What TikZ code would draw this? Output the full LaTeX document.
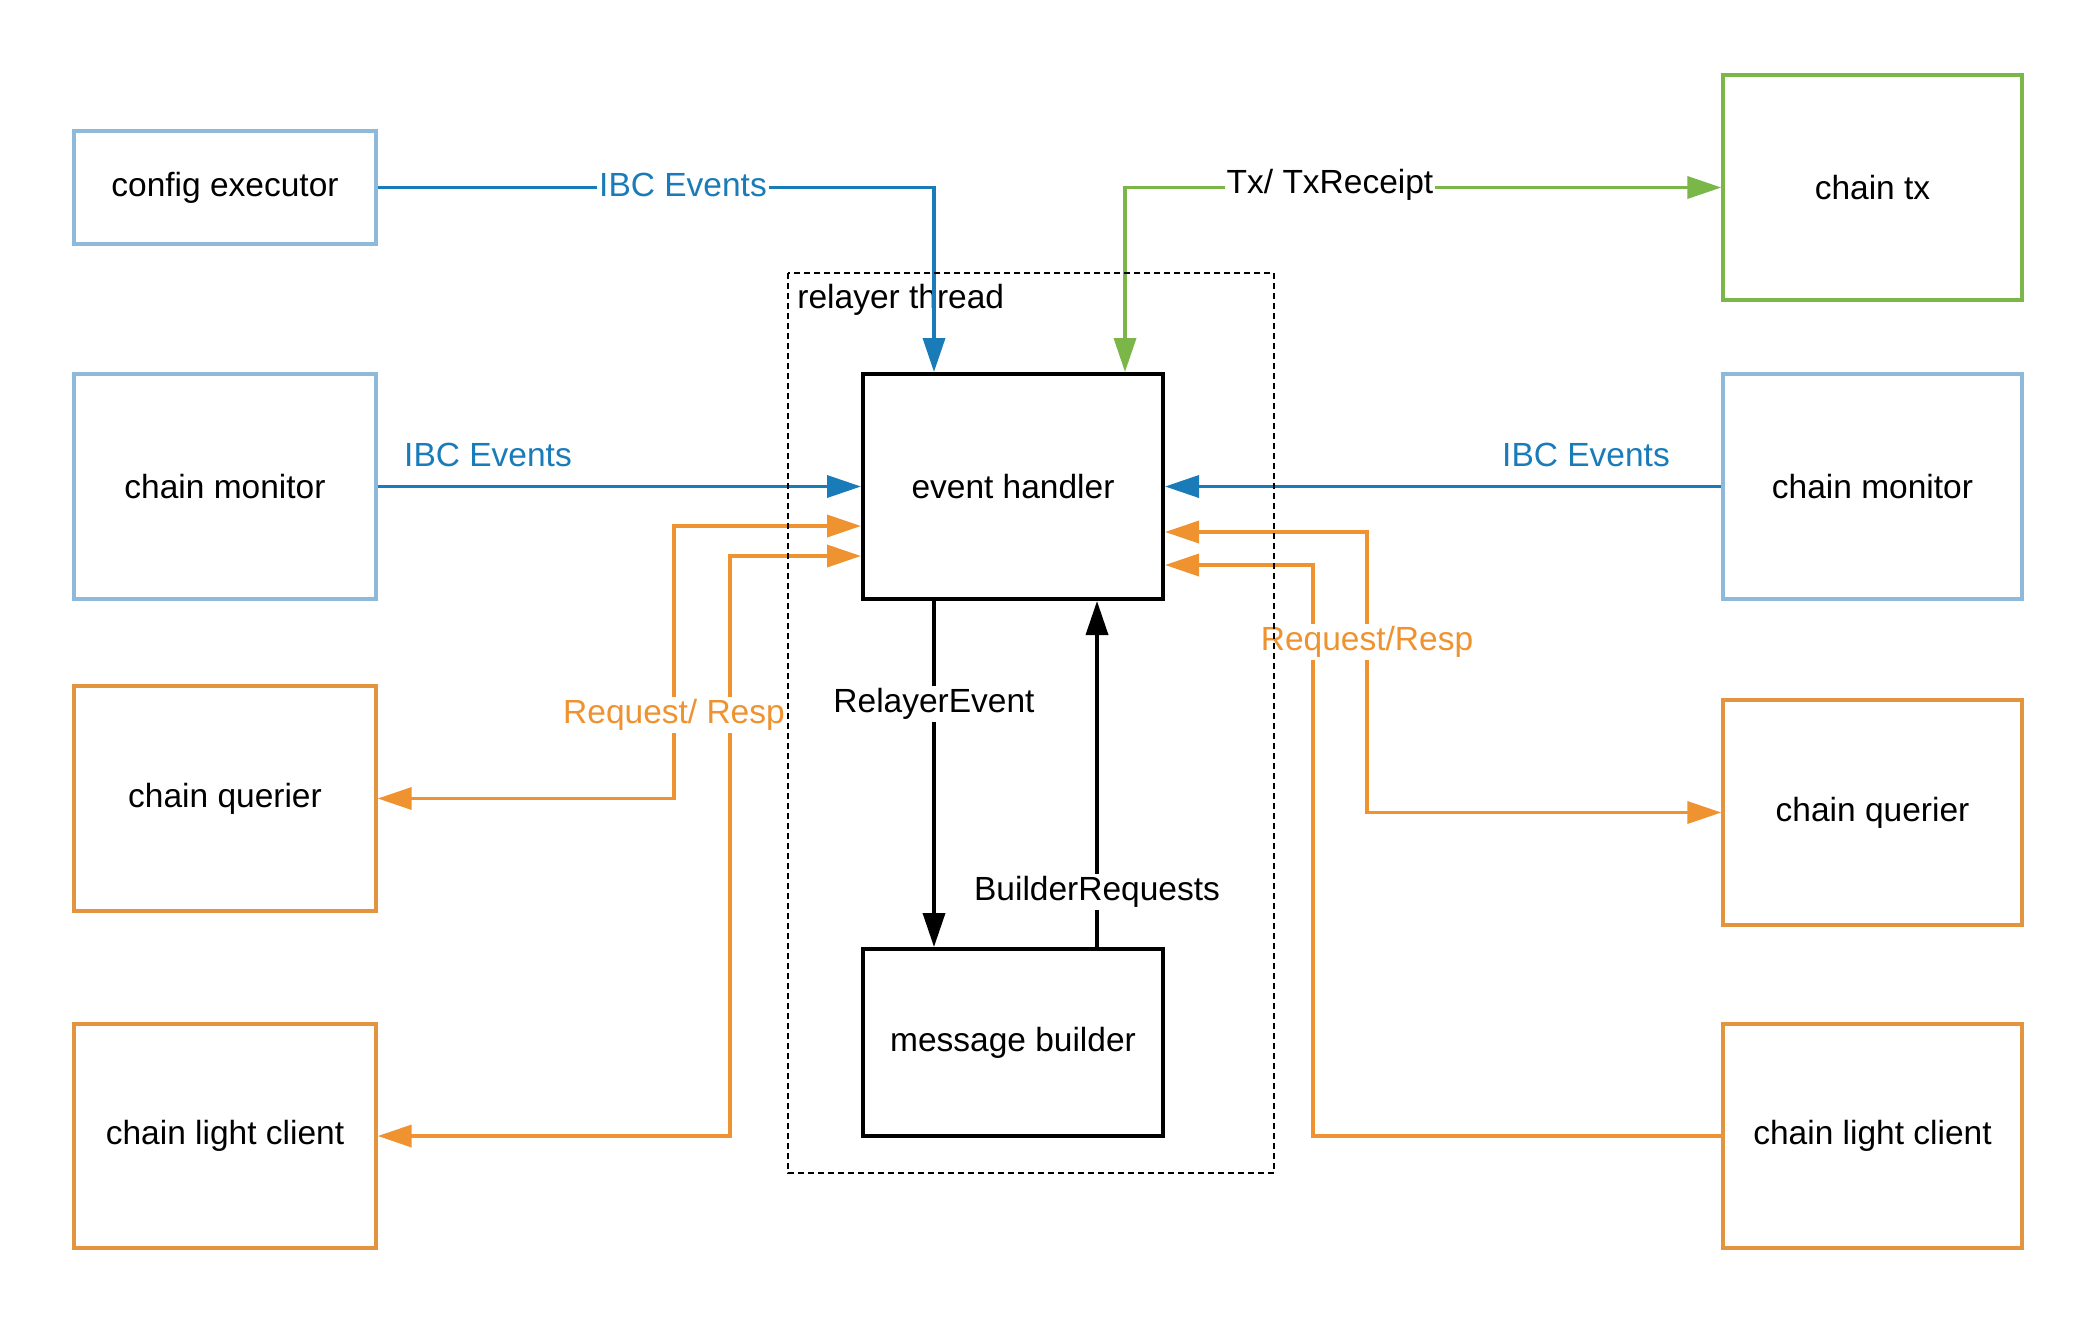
\documentclass[tikz,border=0pt]{standalone}
\usepackage{fontspec}
\setmainfont{Liberation Sans}
\usetikzlibrary{arrows.meta,calc}
\definecolor{lblue}{RGB}{141,186,218}
\definecolor{dblue}{RGB}{26,123,185}
\definecolor{orng}{RGB}{239,146,48}
\definecolor{orngbox}{RGB}{226,148,62}
\definecolor{grn}{RGB}{122,182,72}
\begin{document}
\begin{tikzpicture}[x=0.5pt,y=-0.5pt,
  font=\fontsize{16.75}{20}\selectfont,
  box/.style={draw,inner sep=0pt,align=center},
  bluebox/.style={box,draw=lblue,line width=1.7pt},
  orangebox/.style={box,draw=orngbox,line width=1.7pt},
  greenbox/.style={box,draw=grn,line width=1.7pt},
  blackbox/.style={box,draw=black,line width=2pt},
  tip/.style={-{Triangle[length=17pt,width=11pt]}},
  conn/.style={line width=1.8pt},
  lbl/.style={fill=white,inner sep=1pt},
]
\useasboundingbox (0,0) rectangle (2098,1324);

% boxes
\node[bluebox,minimum width=151pt,minimum height=56.5pt] (cfg) at (225,187.5) {config executor};
\node[bluebox,minimum width=151pt,minimum height=112.5pt] (cmL) at (225,486.5) {chain monitor};
\node[orangebox,minimum width=151pt,minimum height=112.5pt] (cqL) at (225,798.5) {chain querier};
\node[orangebox,minimum width=151pt,minimum height=112pt] (clL) at (225,1136) {chain light client};
\node[greenbox,minimum width=149.5pt,minimum height=112.5pt] (ctx) at (1872.5,187.5) {chain tx};
\node[bluebox,minimum width=149.5pt,minimum height=112.5pt] (cmR) at (1872.5,486.5) {chain monitor};
\node[orangebox,minimum width=149.5pt,minimum height=112.5pt] (cqR) at (1872.5,812.5) {chain querier};
\node[orangebox,minimum width=149.5pt,minimum height=112pt] (clR) at (1872.5,1136) {chain light client};
\node[blackbox,minimum width=150pt,minimum height=112.5pt] (eh) at (1013,486.5) {event handler};
\node[blackbox,minimum width=150pt,minimum height=93.5pt] (mb) at (1013,1042.5) {message builder};

\node[anchor=west,inner sep=0pt] (rt) at (797,300) {relayer thread};

% helper coordinates
\coordinate (xA) at (934,0);
\coordinate (xG) at (1125,0);
\coordinate (xB) at (1097,0);
\coordinate (xL1) at (674,0);
\coordinate (xL2) at (730,0);
\coordinate (xR1) at (1367,0);
\coordinate (xR2) at (1313,0);
\coordinate (yL1) at (0,526);
\coordinate (yL2) at (0,556);
\coordinate (yR1) at (0,532);
\coordinate (yR2) at (0,565);

% blue connectors
\draw[conn,dblue,tip] (cfg.east) -| (xA |- eh.north);
\draw[conn,dblue,tip] (cmL.east) -- (eh.west);
\draw[conn,dblue,tip] (cmR.west) -- (eh.east);

% green connector
\draw[conn,grn,{Triangle[length=17pt,width=11pt]}-{Triangle[length=17pt,width=11pt]}] (xG |- eh.north) |- (ctx.west);

% orange connectors
\draw[conn,orng,{Triangle[length=17pt,width=11pt]}-{Triangle[length=17pt,width=11pt]}] (eh.west |- yL1) -| (xL1 |- cqL.east) -- (cqL.east);
\draw[conn,orng,{Triangle[length=17pt,width=11pt]}-{Triangle[length=17pt,width=11pt]}] (eh.west |- yL2) -| (xL2 |- clL.east) -- (clL.east);
\draw[conn,orng,{Triangle[length=17pt,width=11pt]}-{Triangle[length=17pt,width=11pt]}] (eh.east |- yR1) -| (xR1 |- cqR.west) -- (cqR.west);
\draw[conn,orng,{Triangle[length=17pt,width=11pt]}-] (eh.east |- yR2) -| (xR2 |- clR.west) -- (clR.west);

% black connectors
\draw[conn,black,tip] (xA |- eh.south) -- (xA |- mb.north);
\draw[conn,black,tip] (xB |- mb.north) -- (xB |- eh.south);

% labels
\node[lbl,text=dblue] (l1) at (683,185) {IBC Events};
\node[lbl,text=black] (l2) at (1330,185) {Tx/ TxReceipt};
\node[inner sep=0pt,text=dblue] (l3) at (488,455) {IBC Events};
\node[inner sep=0pt,text=dblue] (l4) at (1586,455) {IBC Events};
\node[lbl,text=orng] (l5) at (674,715) {Request/ Resp};
\node[lbl,text=orng] (l6) at (1367,642) {Request/Resp};
\node[lbl,text=black] (l7) at (934,704) {RelayerEvent};
\node[lbl,text=black] (l8) at (1097,892) {BuilderRequests};

% dashed container
\draw[black,line width=0.7pt,dash pattern=on 3pt off 2pt] (788,273) rectangle (1274,1173);
\end{tikzpicture}
\end{document}
